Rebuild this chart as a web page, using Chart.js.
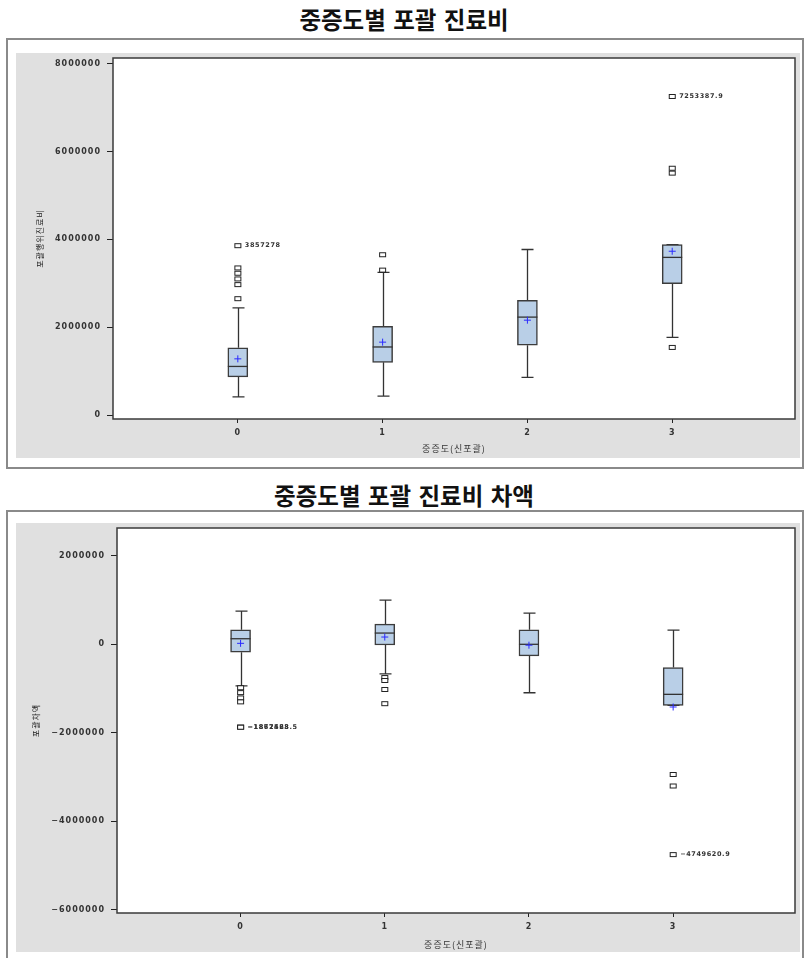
<!DOCTYPE html>
<html>
<head>
<meta charset="utf-8">
<script src="https://cdn.jsdelivr.net/npm/chart.js@4.4.1/dist/chart.umd.min.js"></script>
<style>
html, body { margin: 0; padding: 0; background: #fff; width: 808px; height: 958px; overflow: hidden; }
.title { position: absolute; left: 0; width: 808px; text-align: center; font-family: "Noto Sans CJK KR", sans-serif; font-weight: 700; font-size: 23.5px; word-spacing: 2px; color: #111; line-height: 1; }
.frame { position: absolute; left: 6px; width: 798px; border: 2px solid #8a8a8a; box-sizing: border-box; background: #fff; }
.panel { position: absolute; background: #e0e0e0; }
canvas { display: block; }
</style>
</head>
<body>
<div class="title" style="top:8px">중증도별 포괄 진료비</div>
<div class="frame" style="top:38px; height:431px"></div>
<div class="panel" style="left:16px; top:53px; width:784px; height:405px"><canvas id="costChart"></canvas></div>

<div class="title" style="top:484px">중증도별 포괄 진료비 차액</div>
<div class="frame" style="top:510px; height:460px"></div>
<div class="panel" style="left:16px; top:523px; width:784px; height:429px"><canvas id="diffChart"></canvas></div>

<script>
// ---- shared categories ----
const severity = [0, 1, 2, 3];
const xTitle = '중증도(신포괄)';

// ---- 포괄행위진료비 by 중증도 ----
const costLow    = [416000,  430000,  860000, 1770000];
const costQ1     = [870000, 1200000, 1590000, 2990000];
const costMedian = [1107000, 1550000, 2230000, 3590000];
const costQ3     = [1530000, 2020000, 2610000, 3880000];
const costHigh   = [2440000, 3250000, 3770000, 3880000];
const costMean   = [1280000, 1660000, 2160000, 3730000];
const costOutX   = [0, 0, 0, 0, 0, 0, 1, 1, 3, 3, 3, 3];
const costOutY   = [2650000, 2970000, 3100000, 3230000, 3350000, 3857278,
                    3300000, 3650000, 1540000, 5510000, 5620000, 7253387.9];
const costLabelX = [0, 3];
const costLabelY = [3857278, 7253387.9];
const costLabelText = ['3857278', '7253387.9'];
const costTicks  = [0, 2000000, 4000000, 6000000, 8000000];

// ---- 포괄차액 by 중증도 ----
const diffLow    = [-937000, -667000, -1094000, -1380000];
const diffQ1     = [-180000,  -16000,  -263000, -1380000];
const diffMedian = [ 126000,  254000,        0, -1130000];
const diffQ3     = [ 328000,  455000,   328000,  -526000];
const diffHigh   = [ 748000, 1000000,   703000,   321000];
const diffMean   = [  22000,  164000,   -20000, -1416000];
const diffOutX   = [0, 0, 0, 0, 0, 0, 1, 1, 1, 1, 3, 3, 3];
const diffOutY   = [-980000, -1090000, -1210000, -1300000, -1867468.5, -1872523,
                    -750000, -817000, -1020000, -1340000,
                    -2940000, -3200000, -4749620.9];
const diffLabelX = [0, 0, 3];
const diffLabelY = [-1872523, -1867468.5, -4749620.9];
const diffLabelText = ['\u22121872523', '\u22121867468.5', '\u22124749620.9'];
const diffTicks  = [-6000000, -4000000, -2000000, 0, 2000000];

// small open rectangle used as the outlier marker
function outlierMarker() {
  const c = document.createElement('canvas');
  c.width = 9; c.height = 7;
  const g = c.getContext('2d');
  g.fillStyle = '#fff';
  g.fillRect(1, 1, 7, 5);
  g.strokeStyle = '#222';
  g.lineWidth = 1;
  g.strokeRect(1.5, 1.5, 6, 4);
  return c;
}
const marker = outlierMarker();

const fmt = v => (v < 0 ? '\u2212' + Math.abs(v) : String(v));

// whiskers, caps, medians, plot frame and value labels
const boxPlugin = {
  id: 'boxParts',
  beforeDraw(chart) {
    const { ctx, chartArea: a } = chart;
    ctx.letterSpacing = '1px';
    ctx.save();
    ctx.fillStyle = '#fff';
    ctx.fillRect(a.left, a.top, a.right - a.left, a.bottom - a.top);
    ctx.restore();
  },
  beforeDatasetsDraw(chart) {
    const s = chart.options.plugins.boxParts;
    const { ctx, scales: { x, y } } = chart;
    ctx.save();
    ctx.strokeStyle = '#333';
    ctx.lineWidth = 1.3;
    s.cats.forEach((c, i) => {
      const px = Math.round(x.getPixelForValue(c)) + 0.5;
      const yl = y.getPixelForValue(s.low[i]), yq1 = y.getPixelForValue(s.q1[i]);
      const yh = y.getPixelForValue(s.high[i]), yq3 = y.getPixelForValue(s.q3[i]);
      ctx.beginPath();
      ctx.moveTo(px, yl); ctx.lineTo(px, yq1);
      ctx.moveTo(px, yh); ctx.lineTo(px, yq3);
      ctx.moveTo(px - 6, yl); ctx.lineTo(px + 6, yl);
      ctx.moveTo(px - 6, yh); ctx.lineTo(px + 6, yh);
      ctx.stroke();
    });
    ctx.restore();
  },
  afterDatasetDraw(chart, args) {
    if (args.index !== 0) return;
    const s = chart.options.plugins.boxParts;
    const { ctx, scales: { x, y } } = chart;
    ctx.save();
    ctx.strokeStyle = '#333';
    ctx.lineWidth = 1.3;
    s.cats.forEach((c, i) => {
      const px = x.getPixelForValue(c);
      const ym = y.getPixelForValue(s.median[i]);
      ctx.beginPath();
      ctx.moveTo(px - 10, ym); ctx.lineTo(px + 10, ym);
      ctx.stroke();
    });
    ctx.restore();
  },
  afterDatasetsDraw(chart) {
    const s = chart.options.plugins.boxParts;
    const { ctx, chartArea: a, scales: { x, y } } = chart;
    ctx.save();
    ctx.strokeStyle = '#3a3a3a';
    ctx.lineWidth = 1.5;
    ctx.strokeRect(a.left, a.top, a.right - a.left, a.bottom - a.top);
    ctx.letterSpacing = '0.6px';
    ctx.font = 'bold 6.5px "DejaVu Sans"';
    ctx.fillStyle = '#333';
    ctx.textBaseline = 'middle';
    s.labelX.forEach((c, i) => {
      ctx.fillText(s.labelText[i], x.getPixelForValue(c) + 7, y.getPixelForValue(s.labelY[i]));
    });
    ctx.restore();
  }
};

function boxChart(id, d) {
  const W = d.width, H = d.height, P = d.plot;
  return new Chart(document.getElementById(id), {
    data: {
      datasets: [
        {
          type: 'bar',
          data: d.cats.map((c, i) => ({ x: c, y: [d.q1[i], d.q3[i]] })),
          backgroundColor: '#b9cfe7',
          borderColor: '#3c3c3c',
          borderWidth: 1.5,
          borderSkipped: false,
          barThickness: 20,
          grouped: false,
          order: 3
        },
        {
          type: 'scatter',
          data: d.outX.map((c, i) => ({ x: c, y: d.outY[i] })),
          pointStyle: marker,
          pointRadius: 4,
          order: 2
        },
        {
          type: 'scatter',
          data: d.cats.map((c, i) => ({ x: c, y: d.mean[i] })),
          pointStyle: 'cross',
          pointRadius: 3.5,
          borderColor: '#2a2aff',
          borderWidth: 1,
          order: 1
        }
      ]
    },
    options: {
      responsive: true,
      maintainAspectRatio: false,
      animation: false,
      events: [],
      layout: { padding: { left: 0, top: P.top, right: W - P.right, bottom: 0 } },
      plugins: {
        legend: { display: false },
        tooltip: { enabled: false },
        boxParts: {
          cats: d.cats, low: d.low, q1: d.q1, median: d.median, q3: d.q3, high: d.high,
          labelX: d.labelX, labelY: d.labelY, labelText: d.labelText
        }
      },
      scales: {
        x: {
          type: 'linear',
          position: 'bottom',
          offset: false,
          min: d.xMin, max: d.xMax,
          afterBuildTicks: s => { s.ticks = d.cats.map(v => ({ value: v })); },
          afterFit: s => { s.height = H - P.bottom; s.paddingLeft = 0; s.paddingRight = 0; },
          grid: { offset: false, drawOnChartArea: false, drawTicks: true, tickLength: 4, color: '#222', lineWidth: 1 },
          border: { display: false },
          ticks: { color: '#333', font: { family: 'DejaVu Sans', size: 8, weight: 'bold' }, padding: 5, maxRotation: 0 },
          title: { display: true, text: xTitle, color: '#333',
                   font: { family: 'Noto Sans CJK KR', size: 9 }, padding: { top: 0, bottom: d.xTitlePad } }
        },
        y: {
          type: 'linear',
          min: d.yMin, max: d.yMax,
          afterBuildTicks: s => { s.ticks = d.ticks.map(v => ({ value: v })); },
          afterFit: s => { s.width = P.left; s.paddingTop = 0; s.paddingBottom = 0; },
          grid: { drawOnChartArea: false, drawTicks: true, tickLength: 6, color: '#222', lineWidth: 1 },
          border: { display: false },
          ticks: { color: '#333', font: { family: 'DejaVu Sans', size: 8, weight: 'bold' }, padding: 6, callback: v => fmt(v) },
          title: { display: true, text: d.yTitle, color: '#222',
                   font: { family: 'Noto Sans CJK KR', size: 8 }, padding: { top: d.yTitlePad, bottom: 0 } }
        }
      }
    },
    plugins: [boxPlugin]
  });
}

boxChart('costChart', {
  width: 784, height: 405,
  plot: { left: 97, top: 2, right: 780, bottom: 366 },
  cats: severity, low: costLow, q1: costQ1, median: costMedian, q3: costQ3, high: costHigh, mean: costMean,
  outX: costOutX, outY: costOutY,
  labelX: costLabelX, labelY: costLabelY, labelText: costLabelText,
  ticks: costTicks, yMin: -90000, yMax: 8130000, xMin: -0.862, xMax: 3.848,
  yTitle: '포괄행위진료비', yTitlePad: 19, xTitlePad: 4
});

boxChart('diffChart', {
  width: 784, height: 429,
  plot: { left: 101, top: 2, right: 780, bottom: 390 },
  cats: severity, low: diffLow, q1: diffQ1, median: diffMedian, q3: diffQ3, high: diffHigh, mean: diffMean,
  outX: diffOutX, outY: diffOutY,
  labelX: diffLabelX, labelY: diffLabelY, labelText: diffLabelText,
  ticks: diffTicks, yMin: -6069000, yMax: 2627000, xMin: -0.857, xMax: 3.845,
  yTitle: '포괄차액', yTitlePad: 15, xTitlePad: 2
});
</script>
</body>
</html>
